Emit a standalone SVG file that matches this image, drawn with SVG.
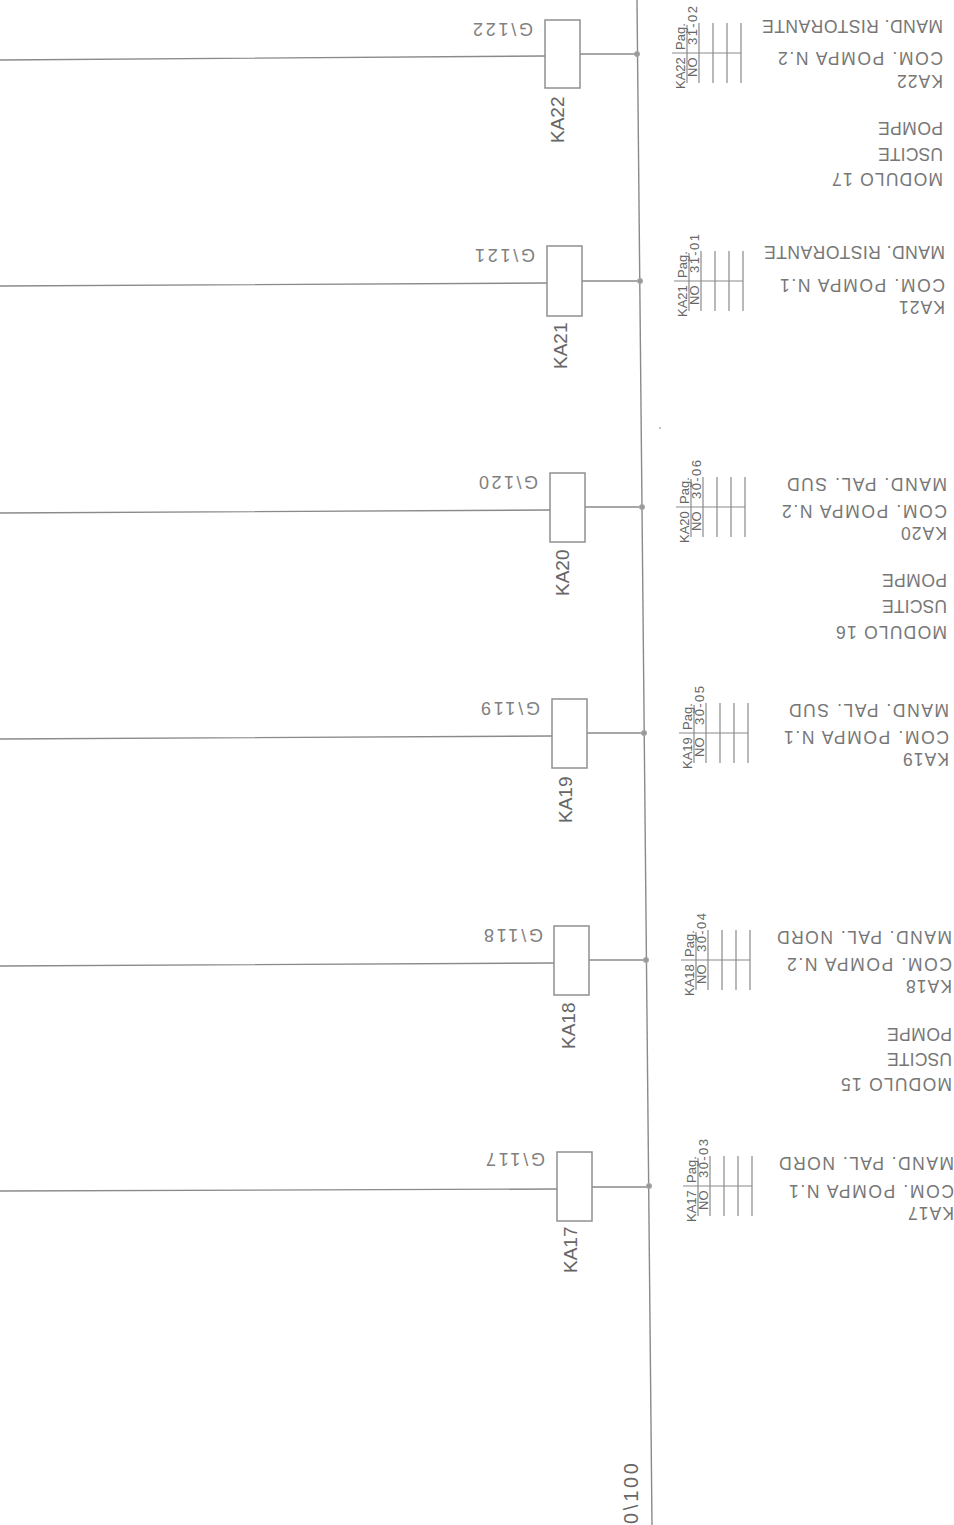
<svg xmlns="http://www.w3.org/2000/svg" xmlns:xlink="http://www.w3.org/1999/xlink" width="954" height="1525" viewBox="0 0 954 1525">
<style>
text{font-family:"Liberation Sans",Arial,sans-serif;fill:#666}
.w{fill:none;stroke:#8a8a8a;stroke-width:1.4}
.c{fill:#fff;stroke:#909090;stroke-width:1.5}
.j{fill:#999;stroke:#aaa;stroke-width:1}
.t{stroke:#8a8a8a;stroke-width:1.2;fill:none}
.r{font-size:17.5px;fill:#777}
.g{font-size:18px;fill:#808080}
.k{font-size:19px;fill:#666}
.s{font-size:13px;fill:#666}
</style>
<defs>
<g id="table">
<path class="t" d="M672 0H741M699-30V30M713-30V30M727-30V30M741-30V30M687-28V30"/>
</g>
</defs>
<rect width="954" height="1525" fill="#fff"/>
<g id="connectors">
<path class="w" d="M637 0L652 1525"/>
<path class="w" d="M0 60L545 56M580 54H637"/>
<path class="w" d="M0 286L547 283M582 281H640"/>
<path class="w" d="M0 513L550 510M585 507H642"/>
<path class="w" d="M0 739L552 736M587 733H644"/>
<path class="w" d="M0 966L554 963M589 960H646"/>
<path class="w" d="M0 1191L557 1189M592 1187H649"/>
<circle class="j" cx="637" cy="54" r="2.6"/>
<circle class="j" cx="640" cy="281" r="2.6"/>
<circle class="j" cx="642" cy="507" r="2.6"/>
<circle class="j" cx="644" cy="733" r="2.6"/>
<circle class="j" cx="646" cy="960" r="2.6"/>
<circle class="j" cx="649" cy="1186" r="2.6"/>
</g>

<g id="coil-KA22">
<rect class="c" x="545" y="20" width="35" height="68"/>
<text class="g" transform="translate(533 23) rotate(180)" textLength="60">G\122</text>
<text class="k" transform="translate(564 143) rotate(-90)">KA22</text>
</g>
<g id="coil-KA21">
<rect class="c" x="547" y="246" width="35" height="70"/>
<text class="g" transform="translate(535 249) rotate(180)" textLength="60">G\121</text>
<text class="k" transform="translate(567 369) rotate(-90)">KA21</text>
</g>
<g id="coil-KA20">
<rect class="c" x="550" y="473" width="35" height="69"/>
<text class="g" transform="translate(538 476) rotate(180)" textLength="59">G\120</text>
<text class="k" transform="translate(569 596) rotate(-90)">KA20</text>
</g>
<g id="coil-KA19">
<rect class="c" x="552" y="699" width="35" height="69"/>
<text class="g" transform="translate(540 702) rotate(180)" textLength="59">G\119</text>
<text class="k" transform="translate(572 823) rotate(-90)">KA19</text>
</g>
<g id="coil-KA18">
<rect class="c" x="554" y="926" width="35" height="69"/>
<text class="g" transform="translate(543 929) rotate(180)" textLength="59">G\118</text>
<text class="k" transform="translate(575 1049) rotate(-90)">KA18</text>
</g>
<g id="coil-KA17">
<rect class="c" x="557" y="1152" width="35" height="69"/>
<text class="g" transform="translate(545 1153) rotate(180)" textLength="59">G\117</text>
<text class="k" transform="translate(577 1273) rotate(-90)">KA17</text>
</g>

<g id="contact-KA22" transform="translate(0 53)">
<use xlink:href="#table" href="#table"/>
<text class="s" transform="translate(685 36) rotate(-90)">KA22</text>
<text class="s" transform="translate(685 -3) rotate(-90)">Pag.</text>
<text class="s" transform="translate(697 24) rotate(-90)">NO</text>
<text class="s" transform="translate(697 -8) rotate(-90)" textLength="39">31-02</text>
</g>
<g id="contact-KA21" transform="translate(2 281)">
<use xlink:href="#table" href="#table"/>
<text class="s" transform="translate(685 36) rotate(-90)">KA21</text>
<text class="s" transform="translate(685 -3) rotate(-90)">Pag.</text>
<text class="s" transform="translate(697 24) rotate(-90)">NO</text>
<text class="s" transform="translate(697 -8) rotate(-90)" textLength="39">31-01</text>
</g>
<g id="contact-KA20" transform="translate(4 507)">
<use xlink:href="#table" href="#table"/>
<text class="s" transform="translate(685 36) rotate(-90)">KA20</text>
<text class="s" transform="translate(685 -3) rotate(-90)">Pag.</text>
<text class="s" transform="translate(697 24) rotate(-90)">NO</text>
<text class="s" transform="translate(697 -8) rotate(-90)" textLength="39">30-06</text>
</g>
<g id="contact-KA19" transform="translate(7 733)">
<use xlink:href="#table" href="#table"/>
<text class="s" transform="translate(685 36) rotate(-90)">KA19</text>
<text class="s" transform="translate(685 -3) rotate(-90)">Pag.</text>
<text class="s" transform="translate(697 24) rotate(-90)">NO</text>
<text class="s" transform="translate(697 -8) rotate(-90)" textLength="39">30-05</text>
</g>
<g id="contact-KA18" transform="translate(9 960)">
<use xlink:href="#table" href="#table"/>
<text class="s" transform="translate(685 36) rotate(-90)">KA18</text>
<text class="s" transform="translate(685 -3) rotate(-90)">Pag.</text>
<text class="s" transform="translate(697 24) rotate(-90)">NO</text>
<text class="s" transform="translate(697 -8) rotate(-90)" textLength="39">30-04</text>
</g>
<g id="contact-KA17" transform="translate(11 1186)">
<use xlink:href="#table" href="#table"/>
<text class="s" transform="translate(685 36) rotate(-90)">KA17</text>
<text class="s" transform="translate(685 -3) rotate(-90)">Pag.</text>
<text class="s" transform="translate(697 24) rotate(-90)">NO</text>
<text class="s" transform="translate(697 -8) rotate(-90)" textLength="39">30-03</text>
</g>

<g id="labels-KA22">
<text class="r" transform="translate(943 20) rotate(180)" textLength="181">MAND. RISTORANTE</text>
<text class="r" transform="translate(943 52) rotate(180)" textLength="165">COM. POMPA N.2</text>
<text class="r" transform="translate(943 75) rotate(180)" textLength="46">KA22</text>
<text class="r" transform="translate(943 122) rotate(180)" textLength="65">POMPE</text>
<text class="r" transform="translate(943 148) rotate(180)" textLength="65">USCITE</text>
<text class="r" transform="translate(943 173) rotate(180)" textLength="111">MODULO 17</text>
</g>
<g id="labels-KA21">
<text class="r" transform="translate(945 246) rotate(180)" textLength="181">MAND. RISTORANTE</text>
<text class="r" transform="translate(945 279) rotate(180)" textLength="165">COM. POMPA N.1</text>
<text class="r" transform="translate(945 301) rotate(180)" textLength="46">KA21</text>
</g>
<g id="labels-KA20">
<text class="r" transform="translate(947 478) rotate(180)" textLength="160">MAND. PAL. SUD</text>
<text class="r" transform="translate(947 505) rotate(180)" textLength="165">COM. POMPA N.2</text>
<text class="r" transform="translate(947 527) rotate(180)" textLength="46">KA20</text>
<text class="r" transform="translate(947 574) rotate(180)" textLength="65">POMPE</text>
<text class="r" transform="translate(947 600) rotate(180)" textLength="65">USCITE</text>
<text class="r" transform="translate(947 626) rotate(180)" textLength="111">MODULO 16</text>
</g>
<g id="labels-KA19">
<text class="r" transform="translate(949 704) rotate(180)" textLength="160">MAND. PAL. SUD</text>
<text class="r" transform="translate(949 731) rotate(180)" textLength="165">COM. POMPA N.1</text>
<text class="r" transform="translate(949 753) rotate(180)" textLength="46">KA19</text>
</g>
<g id="labels-KA18">
<text class="r" transform="translate(952 931) rotate(180)" textLength="175">MAND. PAL. NORD</text>
<text class="r" transform="translate(952 958) rotate(180)" textLength="165">COM. POMPA N.2</text>
<text class="r" transform="translate(952 980) rotate(180)" textLength="46">KA18</text>
<text class="r" transform="translate(952 1028) rotate(180)" textLength="65">POMPE</text>
<text class="r" transform="translate(952 1053) rotate(180)" textLength="65">USCITE</text>
<text class="r" transform="translate(952 1078) rotate(180)" textLength="111">MODULO 15</text>
</g>
<g id="labels-KA17">
<text class="r" transform="translate(954 1157) rotate(180)" textLength="175">MAND. PAL. NORD</text>
<text class="r" transform="translate(954 1185) rotate(180)" textLength="165">COM. POMPA N.1</text>
<text class="r" transform="translate(954 1207) rotate(180)" textLength="46">KA17</text>
</g>
<text class="k" transform="translate(638 1524) rotate(-90)" style="font-size:20px" textLength="61">0\100</text>
<circle cx="660" cy="428" r="0.8" fill="#777"/>
</svg>
